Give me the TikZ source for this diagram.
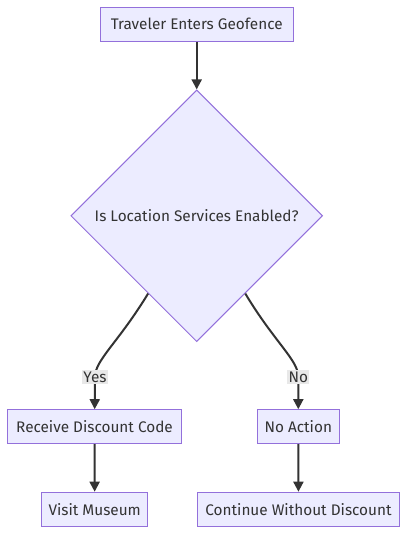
\documentclass[tikz,border=0pt]{standalone}
\usepackage{fontspec}
\setmainfont{Fira Sans}
\usetikzlibrary{shapes.geometric,arrows.meta}
\definecolor{boxfill}{HTML}{ECECFF}
\definecolor{boxline}{HTML}{9370DB}
\definecolor{ink}{HTML}{333333}
\definecolor{lblbg}{HTML}{E8E8E8}
\begin{document}
\begin{tikzpicture}[x=0.75pt,y=-0.75pt,
  txt/.style={text=ink,font=\fontsize{11.5}{13}\selectfont},
  box/.style={txt,draw=boxline,fill=boxfill,line width=0.75pt,minimum height=25.5pt,inner sep=0pt},
  decision/.style={txt,diamond,draw=boxline,fill=boxfill,line width=0.75pt,minimum width=188.8pt,minimum height=188.8pt,inner sep=0pt},
  flow/.style={draw=ink,line width=1.5pt,-{Triangle[length=7.5pt,width=7.5pt]}},
  lbl/.style={txt,fill=lblbg,inner sep=1pt}]
\useasboundingbox (0,0) rectangle (416,544);
\node[box,minimum width=145pt] (start) at (196.7,24.3) {Traveler Enters Geofence};
\node[decision] (q) at (196.7,215.8) {Is Location Services Enabled?};
\node[box,minimum width=130.8pt] (yes) at (94.5,426.7) {Receive Discount Code};
\node[box,minimum width=61.5pt] (no) at (298.3,426.7) {No Action};
\node[box,minimum width=79.5pt] (visit) at (94.7,509.2) {Visit Museum};
\node[box,minimum width=152pt] (cont) at (298.5,509.2) {Continue Without Discount};
\draw[flow] (start) -- (q);
\draw[flow] (q.238) .. controls (118,343) and (95,360) .. (95,377) node[lbl] (ly) {Yes} -- (yes);
\draw[flow] (q.302) .. controls (275,343) and (298.3,360) .. (298.3,377) node[lbl] (ln) {No} -- (no);
\draw[flow] (yes) -- (visit);
\draw[flow] (no) -- (cont);
\end{tikzpicture}
\end{document}
